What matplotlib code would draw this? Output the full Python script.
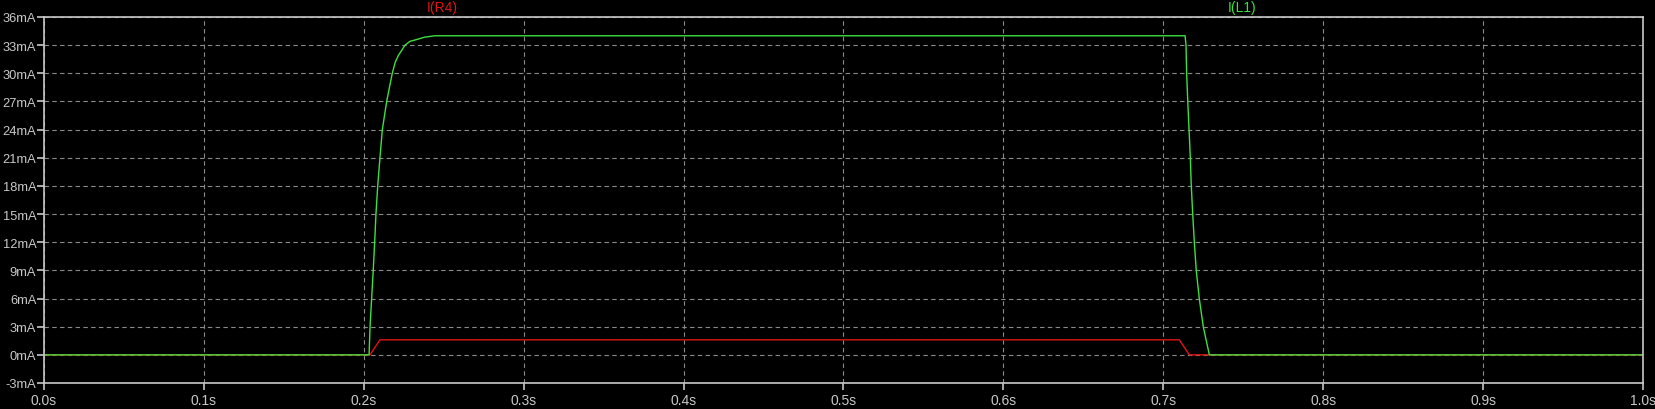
import matplotlib
matplotlib.use("Agg")
import matplotlib.pyplot as plt
import numpy as np

# I(R4) trace, seconds / mA
r4_time = [0.0, 0.2039, 0.2101, 0.7100, 0.7163, 1.0]
r4_current = [0.0, 0.0, 1.6, 1.6, 0.0, 0.0]

# I(L1) trace, seconds / mA
l1_time = [0.0, 0.2033, 0.2039, 0.2049, 0.2059, 0.2068, 0.2076, 0.2087,
           0.2101, 0.2116, 0.2143, 0.2178, 0.2197, 0.2216, 0.2258, 0.2288,
           0.2331, 0.2380, 0.2445,
           0.7136, 0.7142, 0.7146, 0.7153, 0.7161, 0.7169, 0.7175, 0.7184,
           0.7194, 0.7206, 0.7225, 0.7250, 0.7288, 1.0]
l1_current = [0.0, 0.0, 3.0, 6.0, 9.0, 12.0, 15.0, 18.0,
              21.0, 24.0, 27.0, 30.0, 31.2, 31.9, 33.0, 33.4,
              33.6, 33.85, 34.0,
              34.0, 33.0, 30.0, 27.0, 24.0, 21.0, 18.0, 15.0,
              12.0, 9.0, 6.0, 3.0, 0.0, 0.0]

y_ticks = np.arange(-3, 37, 3)
x_ticks = np.round(np.arange(0, 1.01, 0.1), 1)

fg = "#c8c8c8"
grid_col = "#8a8a8a"

fig = plt.figure(figsize=(16.56, 4.10), dpi=100, facecolor="black")
ax = fig.add_axes([44 / 1656, 26 / 410, 1599 / 1656, 366 / 410], facecolor="black")

ax.plot(r4_time, r4_current, color="#e01414", lw=1.0)
ax.plot(l1_time, l1_current, color="#3ee03e", lw=1.0)

ax.set_xlim(0, 1.0)
ax.set_ylim(-3, 36)
ax.set_yticks(y_ticks)
ax.set_yticklabels([f"{v}mA" for v in y_ticks])
ax.set_xticks(x_ticks)
ax.set_xticklabels([f"{v:.1f}s" for v in x_ticks])

ax.grid(True, color=grid_col, linestyle=(0, (4, 3)), lw=0.8)
for s in ax.spines.values():
    s.set_color(fg)
    s.set_linewidth(1.2)
ax.tick_params(colors=fg, labelcolor=fg, length=5, width=1.2, labelsize=9.3, pad=0.5)
ax.tick_params(axis="x", labelsize=10, pad=2)
for lbl in ax.get_xticklabels() + ax.get_yticklabels():
    lbl.set_fontfamily("Liberation Sans")

fig.text(442 / 1656, 1 - 8 / 410, "I(R4)", color="#e01414", ha="center", va="center",
         fontsize=10, family="Liberation Sans")
fig.text(1242 / 1656, 1 - 8 / 410, "I(L1)", color="#3ee03e", ha="center", va="center",
         fontsize=10, family="Liberation Sans")

fig.savefig("out.png", dpi=100, facecolor="black")
